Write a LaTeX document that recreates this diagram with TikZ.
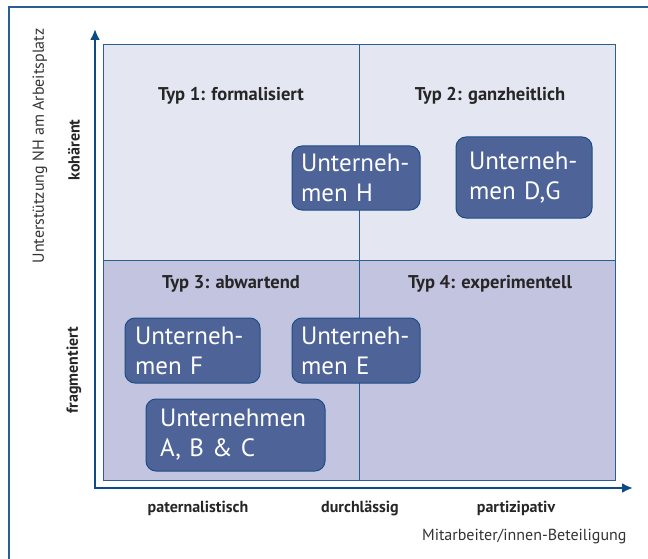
\documentclass[tikz,border=0pt]{standalone}
\usepackage{fontspec}
\setmainfont{PT Sans}
\usepackage{tikz}
\usetikzlibrary{arrows.meta, positioning, calc}
\definecolor{framecol}{HTML}{2A5F92}
\definecolor{axiscol}{HTML}{0B4C86}
\definecolor{topfill}{HTML}{E4E6F1}
\definecolor{botfill}{HTML}{C3C4DF}
\definecolor{firmfill}{HTML}{4E6499}
\definecolor{firmline}{HTML}{1C4E85}
\tikzset{
  quadbox/.style={rectangle, draw=framecol, line width=0.8pt,
    minimum width=256pt, minimum height=216pt, inner sep=0pt},
  typlabel/.style={font=\fontsize{18.5}{22}\selectfont\bfseries, text=black!85},
  firmbox/.style={rectangle, rounded corners=10pt, draw=firmline, line width=1pt,
    fill=firmfill, text=white, align=left, inner sep=0pt,
    font=\fontsize{25}{30}\selectfont},
  axislabel/.style={font=\fontsize{16}{19}\selectfont\bfseries, text=black!85},
  axistitle/.style={font=\fontsize{16}{19}\selectfont, text=black!80},
  axisarrow/.style={{Latex[length=11pt,width=10pt]}-{Latex[length=11pt,width=10pt]},
    line width=2.6pt, color=axiscol, line join=miter},
}

\begin{document}
\begin{tikzpicture}[x=1pt, y=-1pt]
\useasboundingbox (0,0) rectangle (648,559);

% ---- Rahmen ----
\coordinate (ftl) at (9,7);
\coordinate (ftr) at (648,7);
\coordinate (fbl) at (9,559);
\draw[framecol, line width=1.2pt] (ftr) -- (ftl) -- (fbl);

% ---- Quadranten ----
\node[quadbox, fill=topfill, minimum height=216pt] (q1) at (231,152) {};
\node[quadbox, fill=topfill, minimum height=216pt] (q2) at (487,152) {};
\node[quadbox, fill=botfill, minimum height=220pt] (q3) at (231,370) {};
\node[quadbox, fill=botfill, minimum height=220pt] (q4) at (487,370) {};

\node[typlabel] (t1) at (231,96) {Typ 1: formalisiert};
\node[typlabel] (t2) at (490,96) {Typ 2: ganzheitlich};
\node[typlabel] (t3) at (231,284) {Typ 3: abwartend};
\node[typlabel] (t4) at (490,284) {Typ 4: experimentell};

% ---- Unternehmen ----
\node[firmbox, minimum width=128pt, minimum height=64pt, text width=110pt] (uh) at (356,178) {Unterneh-\\men H};
\node[firmbox, minimum width=136pt, minimum height=81pt, text width=110pt] (udg) at (524,177.5) {Unterneh-\\men D,G};
\node[firmbox, minimum width=135pt, minimum height=65pt, text width=115pt] (uf) at (192.5,350.5) {Unterneh-\\men F};
\node[firmbox, minimum width=128pt, minimum height=65pt, text width=110pt] (ue) at (356,350.5) {Unterneh-\\men E};
\node[firmbox, minimum width=179pt, minimum height=72pt, text width=151pt] (uabc) at (235.5,435) {Unternehmen\\A, B \& C};

% ---- Achsen ----
\coordinate (origin) at (95,488);
\coordinate (ytip) at (95,29);
\coordinate (xtip) at (633,488);
\draw[axisarrow] (ytip) -- (origin) -- (xtip);

\node[axislabel] (xl1) at (198,508) {paternalistisch};
\node[axislabel] (xl2) at (360,508) {durchlässig};
\node[axislabel] (xl3) at (516,508) {partizipativ};
\node[axistitle, anchor=east] (xt) at (630,536) {Mitarbeiter/innen-Beteiligung};

\node[axislabel, rotate=90] (yl1) at (74,150) {kohärent};
\node[axislabel, rotate=90] (yl2) at (74,370) {fragmentiert};
\node[axistitle, rotate=90] (yt) at (40,146) {Unterstützung NH am Arbeitsplatz};
\end{tikzpicture}
\end{document}
